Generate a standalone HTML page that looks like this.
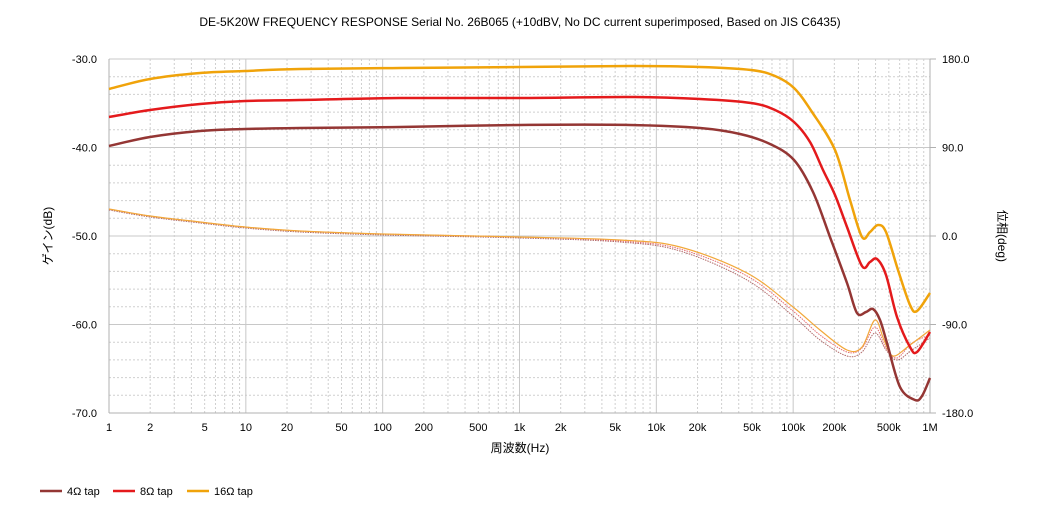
<!DOCTYPE html>
<html><head><meta charset="utf-8"><style>
body{margin:0;background:#fff;}
svg{display:block;font-family:"Liberation Sans","Noto Sans CJK JP",sans-serif;}
</style></head><body>
<svg id="s" width="1040" height="520" xmlns="http://www.w3.org/2000/svg">
<text x="520" y="26" font-size="12" text-anchor="middle" fill="#000">DE-5K20W FREQUENCY RESPONSE Serial No. 26B065 (+10dBV,  No DC current superimposed,  Based on JIS C6435)</text>
<g id="grid"></g>
<g id="lab" font-size="11" fill="#000"></g>
<text x="520" y="452" font-size="12" text-anchor="middle">周波数(Hz)</text>
<text transform="translate(52,236) rotate(-90)" font-size="12" text-anchor="middle">ゲイン(dB)</text>
<text transform="translate(998,236) rotate(90)" font-size="12" text-anchor="middle">位相(deg)</text>
<g id="curves" fill="none"></g>
<line x1="40" y1="491" x2="62" y2="491" stroke="#943634" stroke-width="2.5"/>
<text x="67" y="495" font-size="11">4Ω tap</text>
<line x1="113" y1="491" x2="135" y2="491" stroke="#e41a1c" stroke-width="2.5"/>
<text x="140" y="495" font-size="11">8Ω tap</text>
<line x1="187" y1="491" x2="209" y2="491" stroke="#f0a30a" stroke-width="2.5"/>
<text x="214" y="495" font-size="11">16Ω tap</text>
</svg>
<script>
const NS="http://www.w3.org/2000/svg";
const L=109,R=930,T=59,B=413,D=(R-L)/6;
const g=document.getElementById('grid'),lab=document.getElementById('lab'),cv=document.getElementById('curves');
function el(p,tag,a,txt){const e=document.createElementNS(NS,tag);for(const k in a)e.setAttribute(k,a[k]);if(txt)e.textContent=txt;p.appendChild(e);return e;}
for(let i=0;i<=20;i++){const y=T+(B-T)*i/20;const maj=i%5==0;
 el(g,'line',{x1:L,x2:R,y1:y,y2:y,stroke:maj?'#c8c8c8':'#cfcfcf','stroke-width':1,'stroke-dasharray':maj?'':'2,2'});}
for(let d=0;d<6;d++)for(let m=1;m<=9;m++){const x=L+D*(d+Math.log10(m));
 el(g,'line',{x1:x,x2:x,y1:T,y2:B,stroke:m==1?'#c8c8c8':'#cfcfcf','stroke-dasharray':m==1?'':'2,2'});}
el(g,'line',{x1:L,x2:L,y1:T,y2:B,stroke:'#b0b0b0'});
el(g,'line',{x1:L,x2:R,y1:B,y2:B,stroke:'#b0b0b0'});
el(g,'line',{x1:R,x2:R,y1:T,y2:B,stroke:'#b0b0b0'});
const gl=['-30.0','-40.0','-50.0','-60.0','-70.0'],pl=['180.0','90.0','0.0','-90.0','-180.0'];
for(let i=0;i<5;i++){const y=T+(B-T)*i/4;
 el(lab,'text',{x:97,y:y+4,'text-anchor':'end'},gl[i]);
 el(lab,'line',{x1:R,x2:R+6,y1:y,y2:y,stroke:'#b0b0b0'});
 el(lab,'text',{x:942,y:y+4},pl[i]);}
const xl=[[1,'1'],[2,'2'],[5,'5'],[10,'10'],[20,'20'],[50,'50'],[100,'100'],[200,'200'],[500,'500'],[1e3,'1k'],[2e3,'2k'],[5e3,'5k'],[1e4,'10k'],[2e4,'20k'],[5e4,'50k'],[1e5,'100k'],[2e5,'200k'],[5e5,'500k'],[1e6,'1M']];
for(const [f,t] of xl){el(lab,'text',{x:L+D*Math.log10(f),y:431,'text-anchor':'middle'},t);}
function path(pts){let d='M'+pts[0][0]+','+pts[0][1];
 for(let i=0;i<pts.length-1;i++){const p0=pts[Math.max(0,i-1)],p1=pts[i],p2=pts[i+1],p3=pts[Math.min(pts.length-1,i+2)];
  d+=' C'+(p1[0]+(p2[0]-p0[0])/6)+','+(p1[1]+(p2[1]-p0[1])/6)+' '+(p2[0]-(p3[0]-p1[0])/6)+','+(p2[1]-(p3[1]-p1[1])/6)+' '+p2[0]+','+p2[1];}
 return d;}
const pY=[[109,209],[150,216],[200,222],[245,227],[300,231],[383,234],[520,237],[620,240],[680,247],[747,273],[793,307],[820,330],[847,350],[862,347],[875,320],[884,340],[893,356],[910,345],[930,330]];
const pR=[[109,209],[150,216],[200,222],[245,227],[300,231],[383,234],[520,237],[620,241],[680,249],[747,276],[793,311],[820,335],[847,352],[862,348],[875,327],[886,348],[897,358],[912,343],[930,335]];
const pD=[[109,210],[150,217],[200,223],[245,228],[300,232],[383,235],[520,238],[620,242],[680,251],[747,280],[793,316],[820,340],[847,356],[862,352],[875,333],[886,350],[897,360],[912,350],[930,338]];
el(cv,'path',{d:path(pD),stroke:'#b06a6a','stroke-width':1,'stroke-dasharray':'1.5,1'});
el(cv,'path',{d:path(pR),stroke:'#e36a70','stroke-width':1,'stroke-dasharray':'1.5,1'});
el(cv,'path',{d:path(pY),stroke:'#f2a83a','stroke-width':1.2});
const y16=[[109,89],[150,79],[200,73],[245,71],[300,69],[400,68],[520,67],[630,66],[700,67],[751,70],[775,76],[794,88],[812,112],[835,150],[850,200],[862,237],[870,232],[878,225],[886,232],[898,270],[910,305],[917,311],[930,293]];
const y8=[[109,117],[150,110],[200,104],[245,101],[300,100],[400,98],[520,98],[630,97],[700,99],[751,103],[775,110],[794,122],[810,142],[823,170],[835,195],[847,227],[862,266],[870,262],[877,259],[886,275],[897,317],[910,347],[917,352],[930,332]];
const y4=[[109,146],[150,137],[200,131],[245,129],[300,128],[400,127],[520,125],[630,125],[700,128],[740,134],[770,144],[794,160],[813,192],[830,237],[847,283],[857,313],[866,312],[873,309],[880,320],[887,343],[900,387],[915,400],[922,396],[930,378]];
el(cv,'path',{d:path(y4),stroke:'#943634','stroke-width':2.5});
el(cv,'path',{d:path(y8),stroke:'#e41a1c','stroke-width':2.5});
el(cv,'path',{d:path(y16),stroke:'#f0a30a','stroke-width':2.5});
</script>
</body></html>
